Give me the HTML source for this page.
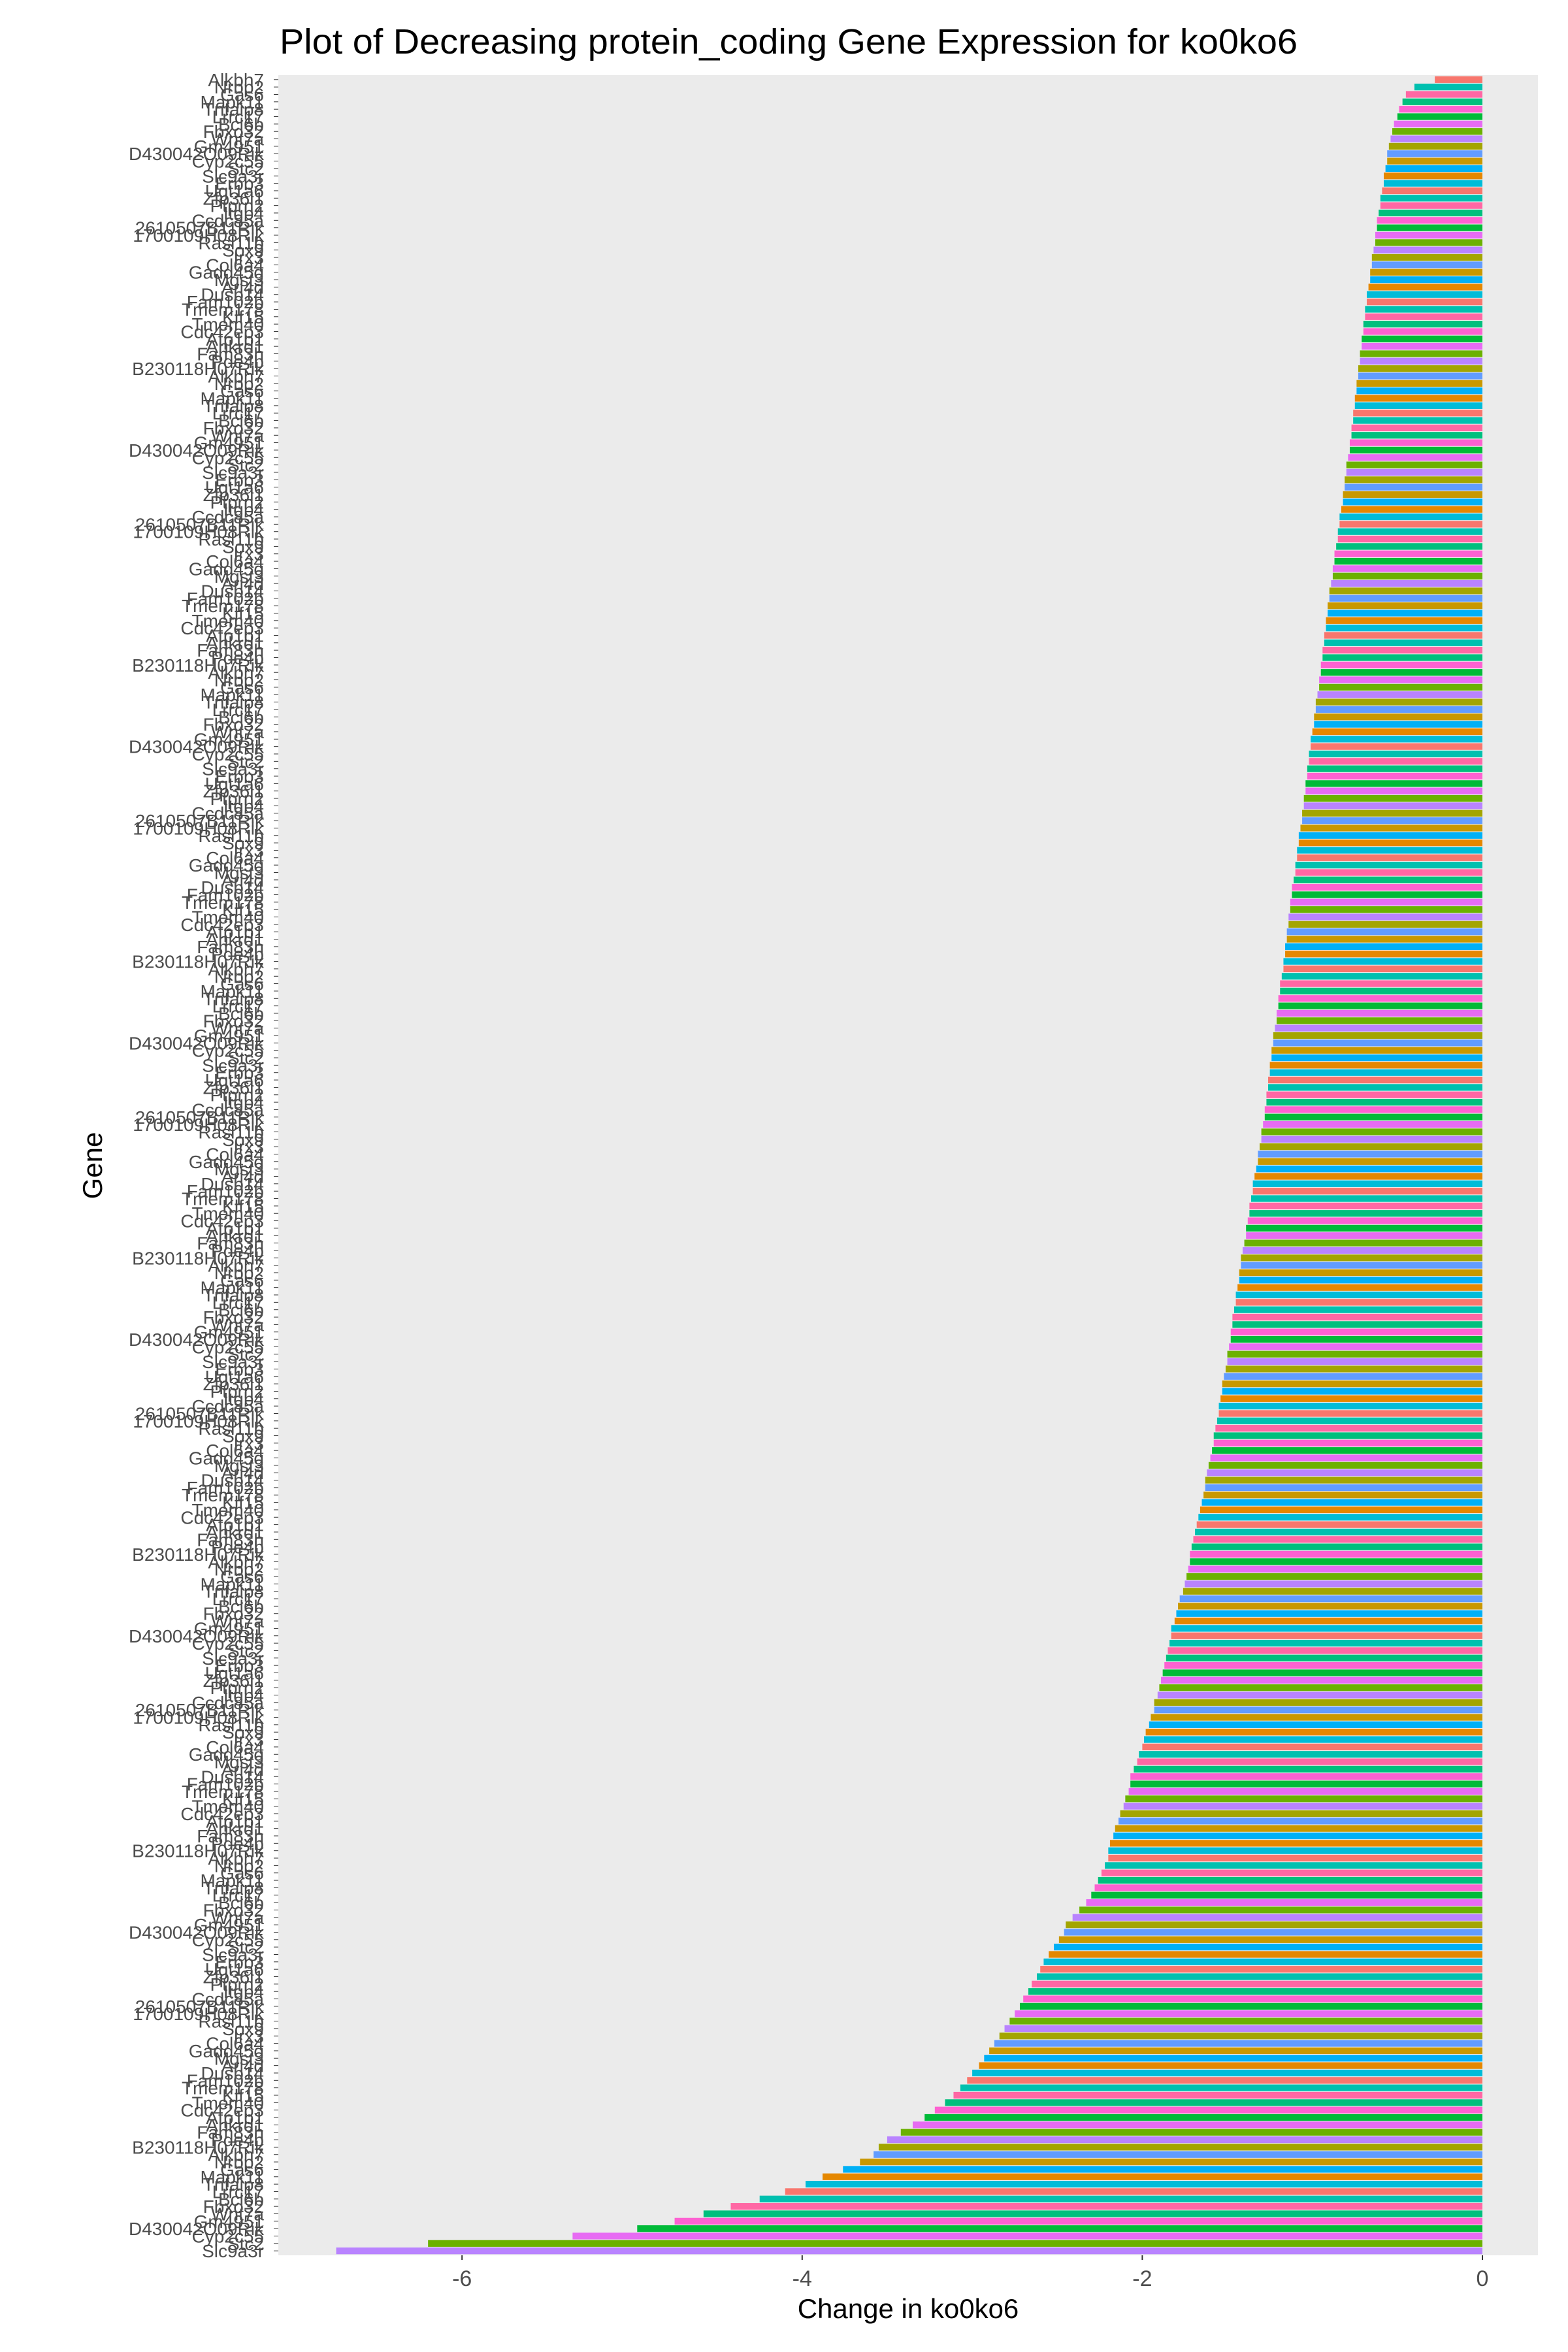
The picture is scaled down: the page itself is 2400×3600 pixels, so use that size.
<!DOCTYPE html>
<html><head><meta charset="utf-8"><style>
html,body{margin:0;padding:0;background:#fff;}
svg{display:block;font-family:"Liberation Sans",Arial,sans-serif;}
</style></head><body>
<svg id="chart" width="2400" height="3600" viewBox="0 0 2400 3600" xmlns="http://www.w3.org/2000/svg">
<rect x="0" y="0" width="2400" height="3600" fill="#ffffff"/>
<text x="428" y="82" font-size="54" textLength="1558" lengthAdjust="spacingAndGlyphs" fill="#000">Plot of Decreasing protein_coding Gene Expression for ko0ko6</text>
<rect id="panel" x="426" y="115" width="1928" height="3337" fill="#ebebeb"/>
<g id="bars"></g>
<g id="ylabels"></g>
<g id="xaxis"></g>
<text x="1390" y="3548" font-size="42" text-anchor="middle" fill="#000">Change in ko0ko6</text>
<text x="0" y="0" font-size="42" text-anchor="middle" fill="#000" transform="translate(156,1784) rotate(-90)">Gene</text>
</svg>
<script>
const values = [
-0.28,-0.40,-0.45,-0.47,-0.49,-0.50,-0.52,-0.53,-0.54,-0.55,
-0.56,-0.56,-0.57,-0.58,-0.58,-0.59,-0.60,-0.60,-0.61,-0.62,
-0.62,-0.63,-0.63,-0.64,-0.65,-0.65,-0.66,-0.66,-0.67,-0.68,
-0.68,-0.69,-0.69,-0.70,-0.70,-0.71,-0.71,-0.72,-0.72,-0.73,
-0.73,-0.74,-0.74,-0.75,-0.75,-0.76,-0.76,-0.77,-0.77,-0.78,
-0.78,-0.79,-0.80,-0.80,-0.81,-0.81,-0.82,-0.82,-0.83,-0.84,
-0.84,-0.85,-0.85,-0.86,-0.87,-0.87,-0.88,-0.88,-0.89,-0.90,
-0.90,-0.91,-0.91,-0.92,-0.92,-0.93,-0.93,-0.94,-0.94,-0.95,
-0.95,-0.96,-0.96,-0.97,-0.98,-0.98,-0.99,-0.99,-1.00,-1.01,
-1.01,-1.02,-1.02,-1.03,-1.03,-1.04,-1.04,-1.05,-1.05,-1.06,
-1.06,-1.07,-1.08,-1.08,-1.09,-1.09,-1.10,-1.10,-1.11,-1.12,
-1.12,-1.13,-1.13,-1.14,-1.14,-1.15,-1.15,-1.16,-1.16,-1.17,
-1.17,-1.18,-1.19,-1.19,-1.20,-1.20,-1.21,-1.21,-1.22,-1.23,
-1.23,-1.24,-1.24,-1.25,-1.25,-1.26,-1.26,-1.27,-1.27,-1.28,
-1.28,-1.29,-1.30,-1.30,-1.31,-1.32,-1.32,-1.33,-1.34,-1.35,
-1.35,-1.36,-1.37,-1.37,-1.38,-1.39,-1.39,-1.40,-1.41,-1.42,
-1.42,-1.43,-1.43,-1.44,-1.45,-1.45,-1.46,-1.47,-1.47,-1.48,
-1.48,-1.49,-1.50,-1.50,-1.51,-1.52,-1.53,-1.53,-1.54,-1.55,
-1.55,-1.56,-1.57,-1.58,-1.58,-1.59,-1.60,-1.61,-1.62,-1.63,
-1.63,-1.64,-1.65,-1.66,-1.67,-1.68,-1.69,-1.70,-1.71,-1.72,
-1.72,-1.73,-1.74,-1.75,-1.76,-1.78,-1.79,-1.80,-1.81,-1.83,
-1.83,-1.84,-1.85,-1.86,-1.87,-1.88,-1.89,-1.90,-1.91,-1.93,
-1.93,-1.95,-1.96,-1.98,-1.99,-2.00,-2.02,-2.03,-2.05,-2.07,
-2.07,-2.08,-2.10,-2.11,-2.13,-2.14,-2.16,-2.17,-2.19,-2.20,
-2.20,-2.22,-2.24,-2.26,-2.28,-2.30,-2.33,-2.37,-2.41,-2.45,
-2.46,-2.49,-2.52,-2.55,-2.58,-2.60,-2.62,-2.65,-2.67,-2.70,
-2.72,-2.75,-2.78,-2.81,-2.84,-2.87,-2.90,-2.93,-2.96,-3.00,
-3.03,-3.07,-3.11,-3.16,-3.22,-3.28,-3.35,-3.42,-3.50,-3.55,
-3.58,-3.66,-3.76,-3.88,-3.98,-4.10,-4.25,-4.42,-4.58,-4.75,
-4.97,-5.35,-6.20,-6.74
];
const geneNames = ["Alkbh7","Fam83h","Cdc42ep3","Tmem178","Arl4d","Col6a4","Rasl11b","Ccdc85a","Zfp36l1","Slc9a3r",
"D430042O09Rik","Fbxo32","Tnfaip8","Nrbp2","Pde4b","Atp1b1","Klf15","Dusp14","Gadd45g","Sox9",
"2610507B11Rik","Ptprn2","Erbb3","Cyp2c55","Wnt7a","Lrrc17","Gas6","B230118H07Rik","Ankrd1","Tmem40",
"Fam102b","Mgst3","Irx3","1700109H08Rik","Itgb4","Ugt1a6","Stc2","Gm4951","Bcl6b","Mapk11"];
const tickValues = [-6,-4,-2,0];
const tickLabels = ["-6","-4","-2","0"];
const palette = ["#F8766D","#E58700","#C99800","#A3A500","#6BB100","#00BA38","#00BF7D","#00C0AF","#00BCD8","#00B0F6","#619CFF","#B983FF","#E76BF3","#FD61D1","#FF67A4"];

const NS = "http://www.w3.org/2000/svg";
const panelTop = 115, panelBottom = 3452;
function xScale(v){ return 2269 + 260.3 * v; }
const n = values.length;
const pitch = (panelBottom - panelTop) / (n + 0.2);
function yCenter(i){ return panelTop + (0.6 + i) * pitch; }

const barsG = document.getElementById('bars');
const labG = document.getElementById('ylabels');
for (let i = 0; i < n; i++) {
  const v = values[i];
  const x0 = xScale(0), x1 = xScale(v);
  const r = document.createElementNS(NS, 'rect');
  r.setAttribute('x', Math.min(x0, x1));
  r.setAttribute('width', Math.abs(x0 - x1));
  r.setAttribute('y', yCenter(i) - pitch * 0.45);
  r.setAttribute('height', pitch * 0.9);
  r.setAttribute('fill', palette[(i * 7) % palette.length]);
  
  
  barsG.appendChild(r);
  const t = document.createElementNS(NS, 'text');
  t.setAttribute('x', 404);
  t.setAttribute('y', yCenter(i) + 10);
  t.setAttribute('font-size', '28');
  t.setAttribute('text-anchor', 'end');
  t.setAttribute('fill', '#4d4d4d');
  t.textContent = geneNames[(i * 13) % geneNames.length];
  
  
  labG.appendChild(t);
  const tk = document.createElementNS(NS, 'line');
  tk.setAttribute('x1', 419); tk.setAttribute('x2', 426);
  tk.setAttribute('y1', yCenter(i)); tk.setAttribute('y2', yCenter(i));
  tk.setAttribute('stroke', '#333'); tk.setAttribute('stroke-width', '1');
  
  
  labG.appendChild(tk);
}
const xG = document.getElementById('xaxis');
for (let k = 0; k < tickValues.length; k++) {
  const x = xScale(tickValues[k]);
  const l = document.createElementNS(NS, 'line');
  l.setAttribute('x1', x); l.setAttribute('x2', x);
  l.setAttribute('y1', 3452); l.setAttribute('y2', 3459);
  l.setAttribute('stroke', '#333'); l.setAttribute('stroke-width', '2');
  
  
  xG.appendChild(l);
  const t = document.createElementNS(NS, 'text');
  t.setAttribute('x', x); t.setAttribute('y', 3499);
  t.setAttribute('font-size', '34'); t.setAttribute('text-anchor', 'middle');
  t.setAttribute('fill', '#4d4d4d');
  t.textContent = tickLabels[k];
  
  
  xG.appendChild(t);
}
</script>
</body></html>
